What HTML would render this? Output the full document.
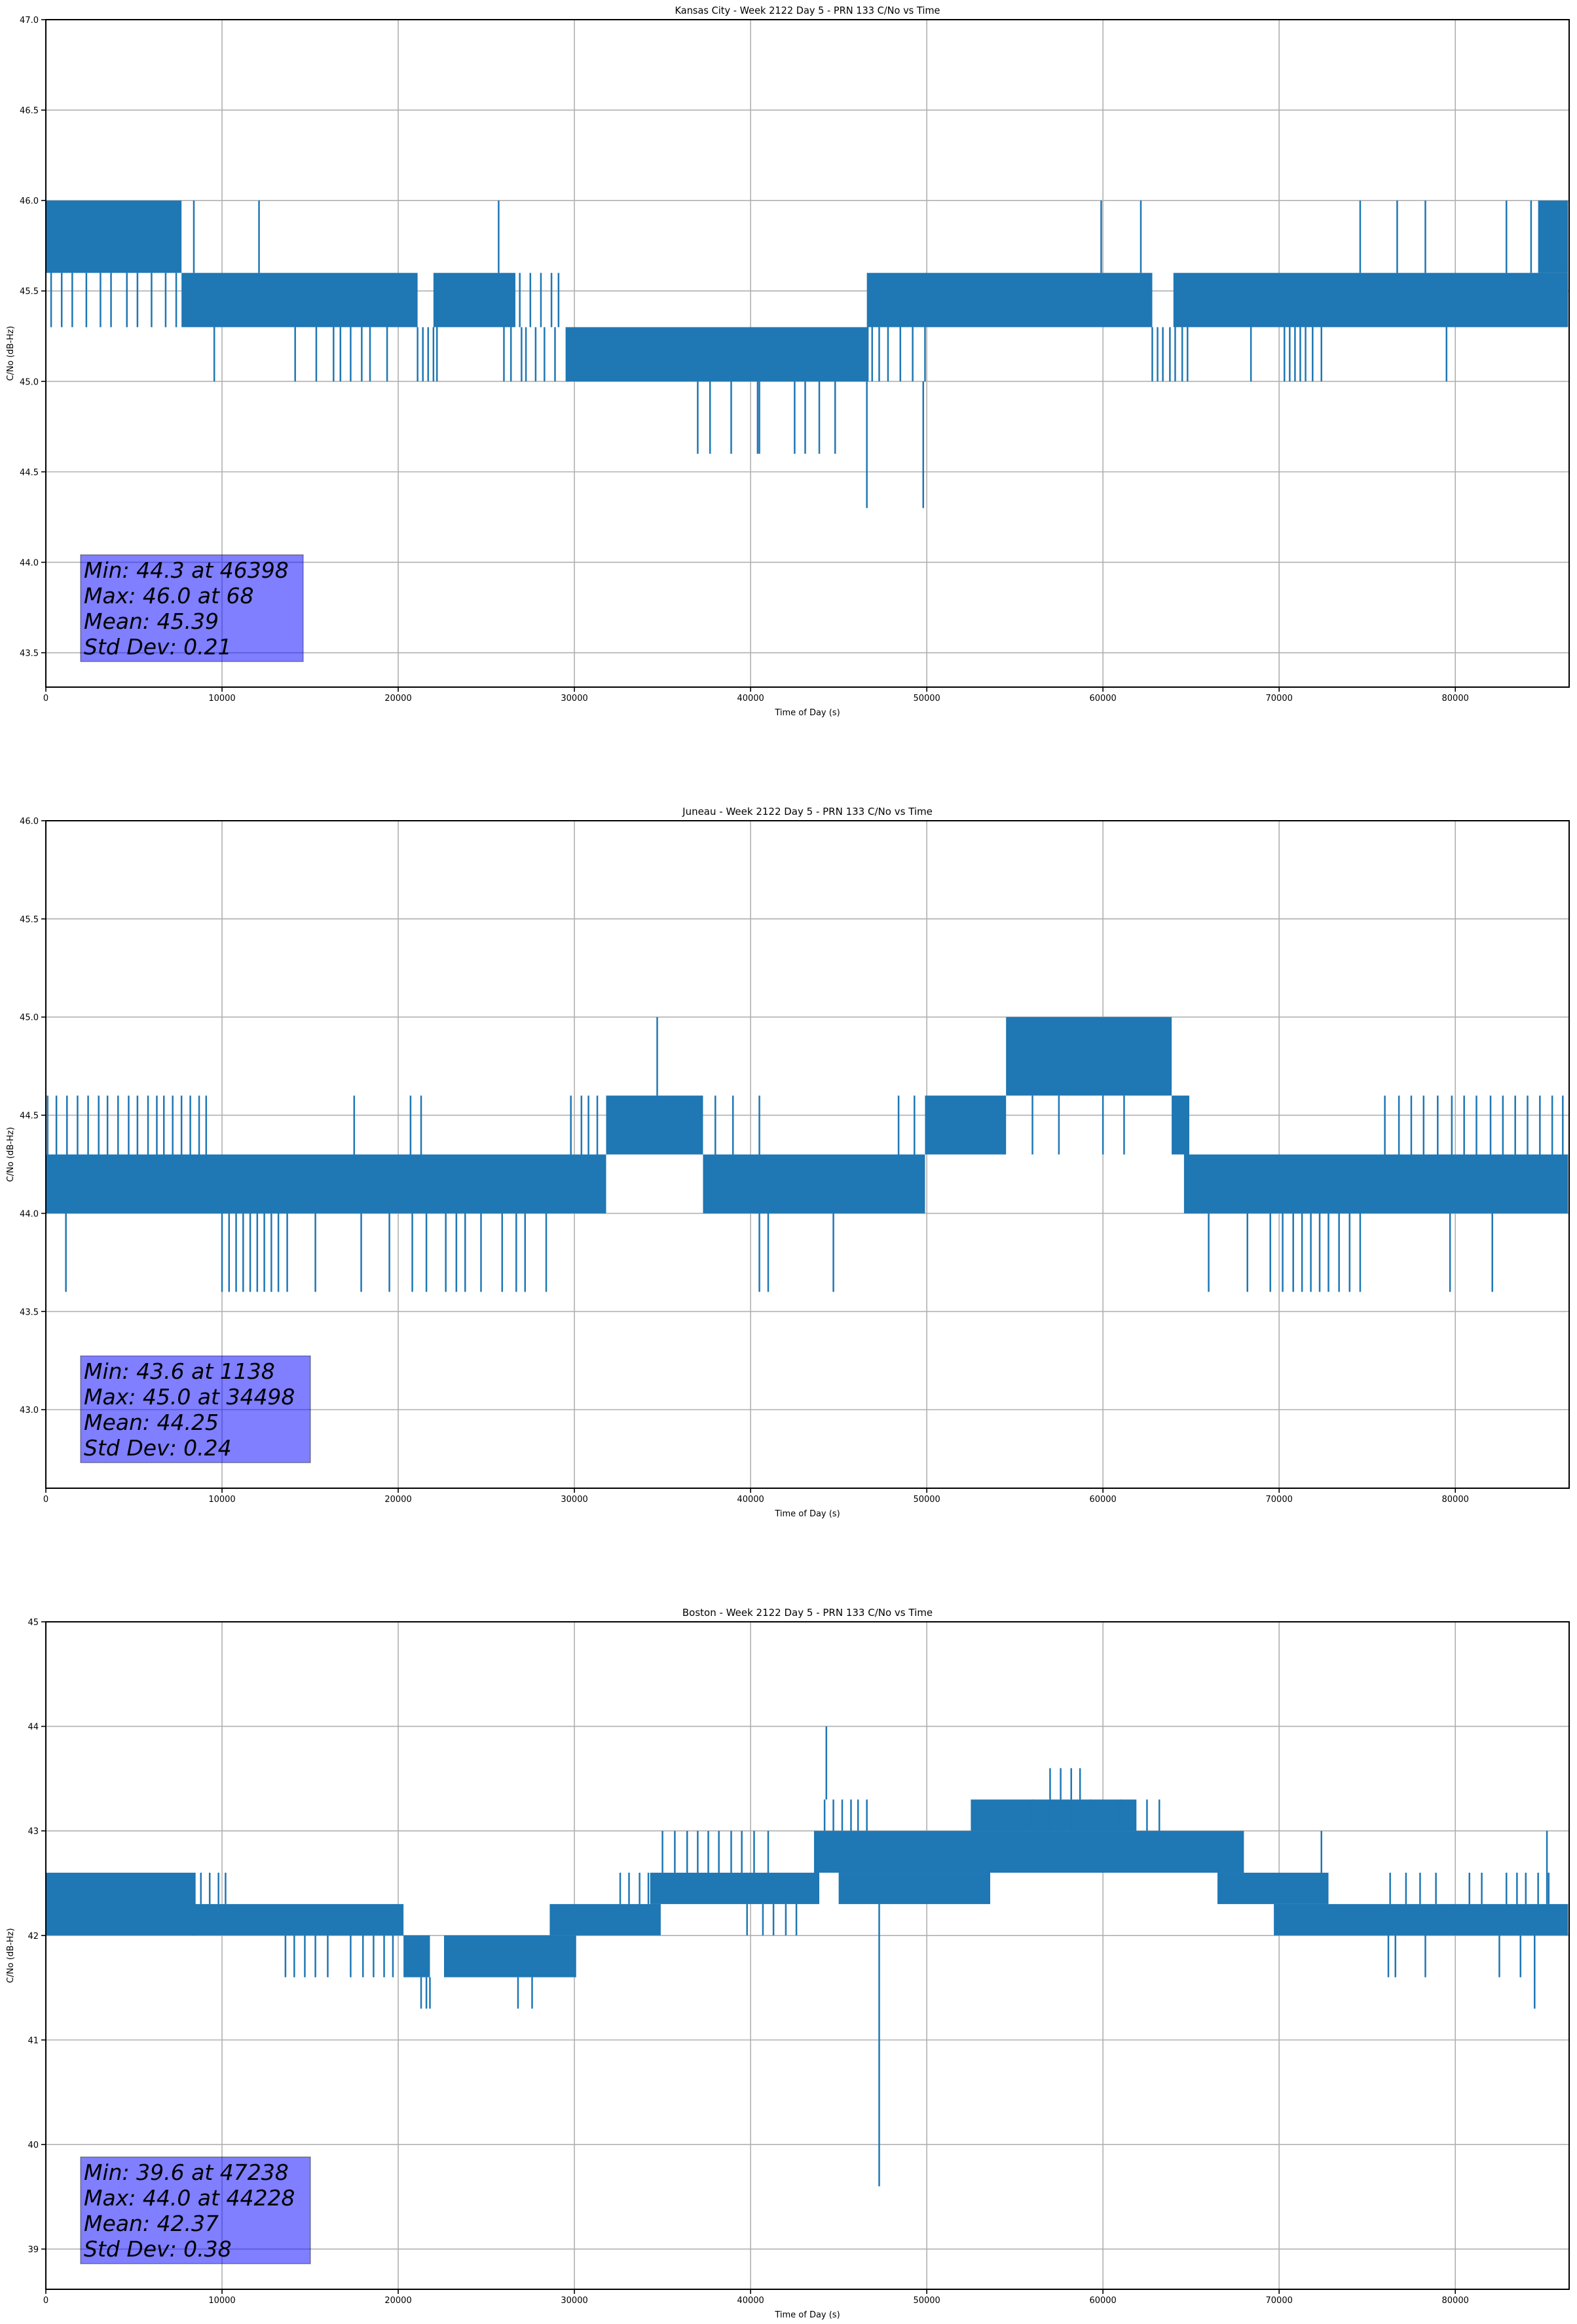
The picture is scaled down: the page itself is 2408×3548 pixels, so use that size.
<!DOCTYPE html>
<html><head><meta charset="utf-8">
<style>
html,body{margin:0;padding:0;background:#fff;}
svg{display:block;}
text{font-family:"DejaVu Sans","Liberation Sans",sans-serif;fill:#000;}
</style></head>
<body>
<svg id="fig" width="2408" height="3548" viewBox="0 0 2408 3548" xmlns="http://www.w3.org/2000/svg"></svg>
<script>
// ---------- Chart 1: Kansas City ----------
const kcTitle = "Kansas City - Week 2122 Day 5 - PRN 133 C/No vs Time";
const kcYTicks = [43.5, 44.0, 44.5, 45.0, 45.5, 46.0, 46.5, 47.0];
const kcYLabels = ["43.5","44.0","44.5","45.0","45.5","46.0","46.5","47.0"];
const kcBandStart = [0, 7700, 22000, 29500, 46600, 64000, 84700];
const kcBandEnd   = [7700, 21100, 26650, 46700, 62800, 86400, 86400];
const kcBandLow   = [45.6, 45.3, 45.3, 45.0, 45.3, 45.3, 45.6];
const kcBandHigh  = [46.0, 45.6, 45.6, 45.3, 45.6, 45.6, 46.0];
const kcSpikeT    = [300,900,1500,2300,3100,3700,4600,5200,6000,6800,7400,8400,12100,25700,59900,62150,74600,76700,78300,82900,84300,
                     9560,14150,15350,16330,16720,17300,17930,18400,19370,21100,21400,21700,22000,22200,26000,26400,27000,27250,27800,28300,28900,
                     37000,37700,38900,40400,40500,42500,43100,43900,44800,46600,49800,
                     46900,47300,47800,48500,49200,49900,62800,63100,63400,63800,64100,64500,64800,68400,70300,70600,70900,71200,71500,71900,72400,79500,
                     26900,27500,28100,28700,29100];
const kcSpikeBase = [45.6,45.6,45.6,45.6,45.6,45.6,45.6,45.6,45.6,45.6,45.6,45.6,45.6,45.6,45.6,45.6,45.6,45.6,45.6,45.6,45.6,
                     45.3,45.3,45.3,45.3,45.3,45.3,45.3,45.3,45.3,45.3,45.3,45.3,45.3,45.3,45.3,45.3,45.3,45.3,45.3,45.3,45.3,
                     45.0,45.0,45.0,45.0,45.0,45.0,45.0,45.0,45.0,45.0,45.0,
                     45.3,45.3,45.3,45.3,45.3,45.3,45.3,45.3,45.3,45.3,45.3,45.3,45.3,45.3,45.3,45.3,45.3,45.3,45.3,45.3,45.3,45.3,
                     45.3,45.3,45.3,45.3,45.3];
const kcSpikeVal  = [45.3,45.3,45.3,45.3,45.3,45.3,45.3,45.3,45.3,45.3,45.3,46.0,46.0,46.0,46.0,46.0,46.0,46.0,46.0,46.0,46.0,
                     45.0,45.0,45.0,45.0,45.0,45.0,45.0,45.0,45.0,45.0,45.0,45.0,45.0,45.0,45.0,45.0,45.0,45.0,45.0,45.0,45.0,
                     44.6,44.6,44.6,44.6,44.6,44.6,44.6,44.6,44.6,44.3,44.3,
                     45.0,45.0,45.0,45.0,45.0,45.0,45.0,45.0,45.0,45.0,45.0,45.0,45.0,45.0,45.0,45.0,45.0,45.0,45.0,45.0,45.0,45.0,
                     45.6,45.6,45.6,45.6,45.6];
const kcStats = ["Min: 44.3 at 46398","Max: 46.0 at 68","Mean: 45.39","Std Dev: 0.21"];

// ---------- Chart 2: Juneau ----------
const jnTitle = "Juneau - Week 2122 Day 5 - PRN 133 C/No vs Time";
const jnYTicks = [43.0, 43.5, 44.0, 44.5, 45.0, 45.5, 46.0];
const jnYLabels = ["43.0","43.5","44.0","44.5","45.0","45.5","46.0"];
const jnBandStart = [0, 31800, 37300, 49900, 54500, 63900, 64600];
const jnBandEnd   = [31800, 37300, 49900, 54500, 63900, 64900, 86400];
const jnBandLow   = [44.0, 44.3, 44.0, 44.3, 44.6, 44.3, 44.0];
const jnBandHigh  = [44.3, 44.6, 44.3, 44.6, 45.0, 44.6, 44.3];
const jnSpikeT    = [100,600,1200,1800,2400,3000,3500,4100,4700,5200,5800,6300,6700,7200,7700,8200,8700,9100,17500,20700,21300,29800,30400,30800,31300,38000,39000,40500,48400,49300,
                     76000,76800,77500,78200,79000,79800,80500,81200,82000,82700,83400,84100,84800,85500,86100,
                     34700,
                     1140,10000,10400,10800,11200,11600,12000,12400,12800,13200,13700,15300,17900,19500,20800,21600,22700,23300,23800,24700,25900,26700,27200,28400,40500,41000,44700,
                     66000,68200,69500,70200,70800,71300,71800,72300,72800,73400,74000,74600,79700,82100,
                     56000,57500,60000,61200];
const jnSpikeBase = [44.3,44.3,44.3,44.3,44.3,44.3,44.3,44.3,44.3,44.3,44.3,44.3,44.3,44.3,44.3,44.3,44.3,44.3,44.3,44.3,44.3,44.3,44.3,44.3,44.3,44.3,44.3,44.3,44.3,44.3,
                     44.3,44.3,44.3,44.3,44.3,44.3,44.3,44.3,44.3,44.3,44.3,44.3,44.3,44.3,44.3,
                     44.6,
                     44.0,44.0,44.0,44.0,44.0,44.0,44.0,44.0,44.0,44.0,44.0,44.0,44.0,44.0,44.0,44.0,44.0,44.0,44.0,44.0,44.0,44.0,44.0,44.0,44.0,44.0,44.0,
                     44.0,44.0,44.0,44.0,44.0,44.0,44.0,44.0,44.0,44.0,44.0,44.0,44.0,44.0,
                     44.6,44.6,44.6,44.6];
const jnSpikeVal  = [44.6,44.6,44.6,44.6,44.6,44.6,44.6,44.6,44.6,44.6,44.6,44.6,44.6,44.6,44.6,44.6,44.6,44.6,44.6,44.6,44.6,44.6,44.6,44.6,44.6,44.6,44.6,44.6,44.6,44.6,
                     44.6,44.6,44.6,44.6,44.6,44.6,44.6,44.6,44.6,44.6,44.6,44.6,44.6,44.6,44.6,
                     45.0,
                     43.6,43.6,43.6,43.6,43.6,43.6,43.6,43.6,43.6,43.6,43.6,43.6,43.6,43.6,43.6,43.6,43.6,43.6,43.6,43.6,43.6,43.6,43.6,43.6,43.6,43.6,43.6,
                     43.6,43.6,43.6,43.6,43.6,43.6,43.6,43.6,43.6,43.6,43.6,43.6,43.6,43.6,
                     44.3,44.3,44.3,44.3];
const jnStats = ["Min: 43.6 at 1138","Max: 45.0 at 34498","Mean: 44.25","Std Dev: 0.24"];

// ---------- Chart 3: Boston ----------
const bsTitle = "Boston - Week 2122 Day 5 - PRN 133 C/No vs Time";
const bsYTicks = [39, 40, 41, 42, 43, 44, 45];
const bsYLabels = ["39","40","41","42","43","44","45"];
const bsBandStart = [0, 8300, 20300, 22600, 28600, 34300, 43600, 45000, 52500, 66500, 69700];
const bsBandEnd   = [8500, 20300, 21800, 30100, 34900, 43900, 68000, 53600, 61900, 72800, 86400];
const bsBandLow   = [42.0, 42.0, 41.6, 41.6, 42.0, 42.3, 42.6, 42.3, 43.0, 42.3, 42.0];
const bsBandHigh  = [42.6, 42.3, 42.0, 42.0, 42.3, 42.6, 43.0, 42.6, 43.3, 42.6, 42.3];
const bsSpikeT    = [8800,9300,9800,10200,
                     32600,33100,33700,34200,35000,35700,36400,37000,37600,38200,38900,39500,40200,41000,
                     44200,44700,45200,45700,46100,46600,56000,57000,57600,58200,58700,59300,61000,62500,63200,
                     44300,57000,57600,58200,58700,72400,85200,
                     47300,
                     13600,14100,14700,15300,16000,17300,18000,18600,19200,19700,
                     21300,21600,21800,26800,27600,84500,
                     76200,76600,78300,82500,83700,84500,
                     76300,77200,78000,78900,80800,81500,82900,83500,84000,84700,85300,
                     39800,40700,41300,42000,42600];
const bsSpikeBase = [42.3,42.3,42.3,42.3,
                     42.3,42.3,42.3,42.3,42.6,42.6,42.6,42.6,42.6,42.6,42.6,42.6,42.6,42.6,
                     43.0,43.0,43.0,43.0,43.0,43.0,43.0,43.0,43.0,43.0,43.0,43.0,43.0,43.0,43.0,
                     43.3,43.3,43.3,43.3,43.3,42.6,42.3,
                     42.3,
                     42.0,42.0,42.0,42.0,42.0,42.0,42.0,42.0,42.0,42.0,
                     41.6,41.6,41.6,41.6,41.6,42.0,
                     42.0,42.0,42.0,42.0,42.0,42.0,
                     42.3,42.3,42.3,42.3,42.3,42.3,42.3,42.3,42.3,42.3,42.3,
                     42.3,42.3,42.3,42.3,42.3];
const bsSpikeVal  = [42.6,42.6,42.6,42.6,
                     42.6,42.6,42.6,42.6,43.0,43.0,43.0,43.0,43.0,43.0,43.0,43.0,43.0,43.0,
                     43.3,43.3,43.3,43.3,43.3,43.3,43.3,43.3,43.3,43.3,43.3,43.3,43.3,43.3,43.3,
                     44.0,43.6,43.6,43.6,43.6,43.0,43.0,
                     39.6,
                     41.6,41.6,41.6,41.6,41.6,41.6,41.6,41.6,41.6,41.6,
                     41.3,41.3,41.3,41.3,41.3,41.3,
                     41.6,41.6,41.6,41.6,41.6,41.6,
                     42.6,42.6,42.6,42.6,42.6,42.6,42.6,42.6,42.6,42.6,42.6,
                     42.0,42.0,42.0,42.0,42.0];
const bsStats = ["Min: 39.6 at 47238","Max: 44.0 at 44228","Mean: 42.37","Std Dev: 0.38"];

const xTicks = [0, 10000, 20000, 30000, 40000, 50000, 60000, 70000, 80000];
const xMax = 86460;

const NS = "http://www.w3.org/2000/svg";
const fig = document.getElementById('fig');
function mk(tag, attrs, parent) {
  const e = document.createElementNS(NS, tag);
  for (const k in attrs) e.setAttribute(k, attrs[k]);
  parent.appendChild(e);
  return e;
}

function drawChart(key, top, yMin, yMax, title, yTicks, yLabels, bS, bE, bL, bH, sT, sB, sV, stats, boxW) {
  const L = 70, R = 2396, B = top + 1019;
  const xs = t => L + t / xMax * (R - L);
  const ys = v => B - (v - yMin) / (yMax - yMin) * (B - top);
  const g = mk('g', {}, fig);
  
  

  // grid
  xTicks.forEach(t => {
    const l = mk('line', {x1: xs(t), x2: xs(t), y1: top, y2: B, stroke: '#b0b0b0', 'stroke-width': 1.6}, g);
    
    
  });
  yTicks.forEach(v => {
    const l = mk('line', {x1: L, x2: R, y1: ys(v), y2: ys(v), stroke: '#b0b0b0', 'stroke-width': 1.6}, g);
    
    
  });

  // data bands
  for (let i = 0; i < bS.length; i++) {
    const r = mk('rect', {x: xs(bS[i]), y: ys(bH[i]), width: Math.max(1, xs(bE[i]) - xs(bS[i])), height: ys(bL[i]) - ys(bH[i]), fill: '#1f77b4'}, g);
    
    
  }
  // spikes
  for (let i = 0; i < sT.length; i++) {
    const l = mk('line', {x1: xs(sT[i]), x2: xs(sT[i]), y1: ys(sB[i]), y2: ys(sV[i]), stroke: '#1f77b4', 'stroke-width': 2.5}, g);
    
    
  }

  // axes frame
  const fr = mk('rect', {x: L, y: top, width: R - L, height: B - top, fill: 'none', stroke: '#000', 'stroke-width': 2}, g);
  
  

  // x ticks
  xTicks.forEach(t => {
    mk('line', {x1: xs(t), x2: xs(t), y1: B, y2: B + 7, stroke: '#000', 'stroke-width': 1.6}, g);
    const tx = mk('text', {x: xs(t), y: B + 21, 'font-size': 13, 'text-anchor': 'middle'}, g);
    tx.textContent = String(t);
    
    
  });
  // y ticks
  yTicks.forEach((v, i) => {
    mk('line', {x1: L - 7, x2: L, y1: ys(v), y2: ys(v), stroke: '#000', 'stroke-width': 1.6}, g);
    const tx = mk('text', {x: L - 11, y: ys(v) + 5, 'font-size': 13, 'text-anchor': 'end'}, g);
    tx.textContent = yLabels[i];
    
    
  });

  const tt = mk('text', {x: (L + R) / 2, y: top - 9, 'font-size': 15, 'text-anchor': 'middle', textLength: 405, lengthAdjust: 'spacingAndGlyphs'}, g);
  tt.textContent = title;
  
  
  if (title.length !== 52) tt.removeAttribute('textLength');

  const xl = mk('text', {x: (L + R) / 2, y: B + 43, 'font-size': 13, 'text-anchor': 'middle'}, g);
  xl.textContent = 'Time of Day (s)';
  
  

  const yl = mk('text', {x: 0, y: 0, 'font-size': 13, 'text-anchor': 'middle', transform: `translate(20,${(top + B) / 2}) rotate(-90)`}, g);
  yl.textContent = 'C/No (dB-Hz)';
  
  

  // stats box
  const by = B - 202;
  const box = mk('rect', {x: 123, y: by, width: boxW, height: 163, fill: 'rgba(0,0,255,0.5)', stroke: 'rgba(0,0,0,0.35)', 'stroke-width': 1.5}, g);
  
  
  stats.forEach((s, i) => {
    const tx = mk('text', {x: 128, y: by + 35 + i * 39, 'font-size': 33, 'font-style': 'italic'}, g);
    tx.textContent = s;
    
    
  });
}

drawChart('kansas-city', 30, 43.31, 47.0, kcTitle, kcYTicks, kcYLabels, kcBandStart, kcBandEnd, kcBandLow, kcBandHigh, kcSpikeT, kcSpikeBase, kcSpikeVal, kcStats, 340);
drawChart('juneau', 1253, 42.60, 46.0, jnTitle, jnYTicks, jnYLabels, jnBandStart, jnBandEnd, jnBandLow, jnBandHigh, jnSpikeT, jnSpikeBase, jnSpikeVal, jnStats, 351);
drawChart('boston', 2476, 38.615, 45.0, bsTitle, bsYTicks, bsYLabels, bsBandStart, bsBandEnd, bsBandLow, bsBandHigh, bsSpikeT, bsSpikeBase, bsSpikeVal, bsStats, 351);
</script>
</body></html>
